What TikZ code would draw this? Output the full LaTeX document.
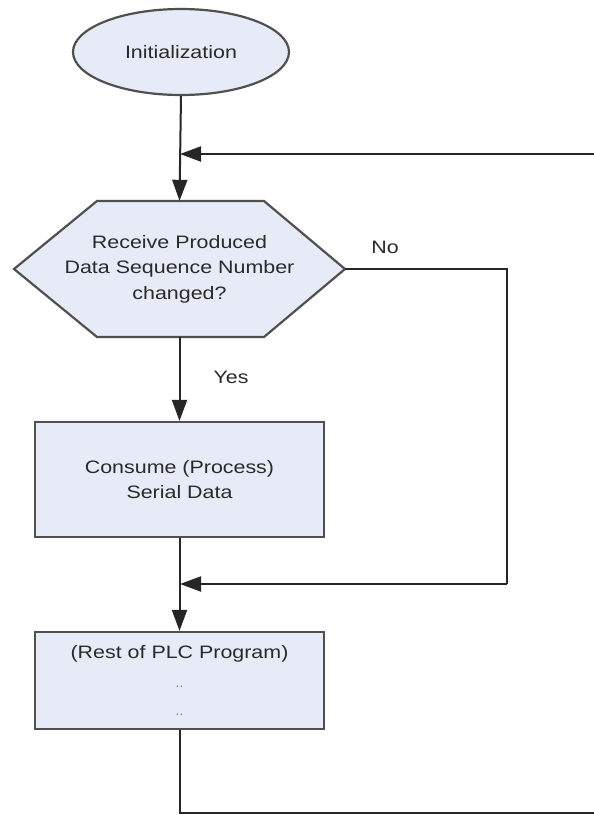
\documentclass[tikz,border=0pt]{standalone}
\usepackage{fontspec}
\setmainfont{Liberation Sans}
\usepackage{graphicx}
\usetikzlibrary{arrows.meta,shapes.geometric}
\definecolor{boxfill}{HTML}{E6EBF7}
\definecolor{edgecol}{HTML}{505050}
\definecolor{linecol}{HTML}{262626}
\definecolor{txtcol}{HTML}{2A2A2A}
\newcommand{\st}[1]{\scalebox{1.19}[1]{#1}}
\begin{document}
\begin{tikzpicture}[x=1pt,y=-1pt,
  shapestyle/.style={draw=edgecol,line width=2.2pt,fill=boxfill},
  lbl/.style={text=txtcol,font=\fontsize{18}{25.5}\selectfont,align=center,inner sep=0pt},
  conn/.style={draw=linecol,line width=2pt},
  arr/.style={conn,-{Triangle[length=21pt,width=15pt]}},
]
\useasboundingbox (0,0) rectangle (594,815);
\fill[white] (0,0) rectangle (594,815);

% Initialization
\node[ellipse, shapestyle, minimum width=216pt, minimum height=86pt, lbl] (init) at (181,52) {\st{Initialization}};

% decision hexagon
\draw[shapestyle] (14,269) -- (97,201) -- (264,201) -- (345,269) -- (264,337) -- (97,337) -- cycle;
\node[lbl, minimum width=331pt, minimum height=136pt] (dec) at (179.5,269)
  {\st{Receive Produced}\\\st{Data Sequence Number}\\\st{changed?}};

% process box
\node[shapestyle, lbl, minimum width=289pt, minimum height=115pt] (proc) at (179.5,479.5)
  {\st{Consume (Process)}\\\st{Serial Data}};

% rest box
\node[shapestyle, lbl, font=\fontsize{18}{28.5}\selectfont, minimum width=289pt, minimum height=97pt] (rest) at (179.5,680.5)
  {\st{(Rest of PLC Program)}\\{\color{gray}\fontsize{14}{28.5}\selectfont ..}\\{\color{gray}\fontsize{14}{28.5}\selectfont ..}};

% junction / edge coordinates
\coordinate (j1) at (180,154);
\coordinate (j2) at (180,584);
\coordinate (eR1) at (594,154);
\coordinate (eR2) at (594,813);
\coordinate (nR1) at (507,269);
\coordinate (nR2) at (507,584);

% connectors
\draw[arr] (init.south) -- (dec.north);
\draw[arr] (eR1) -- (j1);
\draw[arr] (dec.south) -- (proc.north);
\draw[arr] (proc.south) -- (rest.north);
\draw[conn] (dec.east) -- (nR1) -- (nR2);
\draw[arr] (nR2) -- (j2);
\draw[conn] (rest.south) |- (eR2);

% labels
\node[lbl] (yes) at (231,377) {\st{Yes}};
\node[lbl] (no) at (385,247) {\st{No}};
\end{tikzpicture}
\end{document}
